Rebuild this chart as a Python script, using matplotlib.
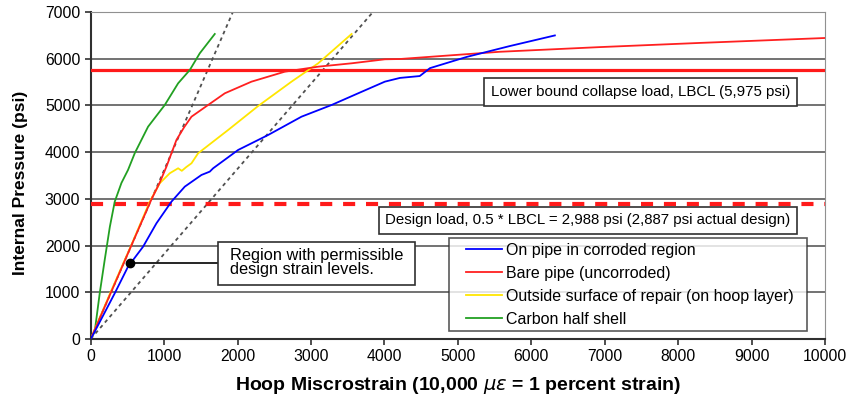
import matplotlib
matplotlib.use("Agg")
import matplotlib.pyplot as plt
from matplotlib.lines import Line2D
from matplotlib.patches import Rectangle
from matplotlib.legend_handler import HandlerLine2D

plt.rcParams['font.family'] = ['Liberation Sans', 'DejaVu Sans']

# --- data ---
blue_x = [0, 54, 327, 508, 713, 895, 1099, 1281, 1508, 1621, 1667, 2007, 2416, 2870,
          3279, 3642, 4005, 4210, 4480, 4620, 5120, 5700, 6320]
blue_y = [0, 156, 978, 1548, 1976, 2477, 2940, 3262, 3512, 3583, 3655, 4047, 4368, 4760,
          5010, 5261, 5510, 5590, 5630, 5800, 6040, 6270, 6500]

red_x = [0, 277, 553, 830, 940, 1031, 1100, 1167, 1270, 1372, 1598, 1826, 2189, 2643,
         3097, 3552, 4005, 4210, 5570, 6930, 8300, 10000]
red_y = [0, 1000, 2000, 3000, 3350, 3690, 3980, 4261, 4530, 4760, 5010, 5261, 5510, 5724,
         5831, 5903, 5989, 5995, 6150, 6250, 6340, 6445]

yellow_x = [0, 270, 550, 804, 940, 1076, 1190, 1240, 1300, 1372, 1462, 1871, 2280, 2734,
            3097, 3552]
yellow_y = [0, 1000, 2000, 2940, 3334, 3548, 3655, 3600, 3680, 3762, 3976, 4475, 4989, 5510,
            5903, 6531]

green_x = [0, 54, 123, 190, 260, 327, 418, 508, 600, 781, 1008, 1190, 1349, 1485, 1689]
green_y = [0, 156, 985, 1690, 2400, 2940, 3340, 3620, 3980, 4546, 5010, 5475, 5760, 6118, 6531]

labels = ["On pipe in corroded region", "Bare pipe (uncorroded)",
          "Outside surface of repair (on hoop layer)", "Carbon half shell"]
colors = ["#0000ff", "#ff2020", "#ffe600", "#22a022"]

lbcl_line = 5750
design_line = 2900
slope_lines = [(1935, 7000), (3842, 7000)]
dot = (531, 1621)

fig = plt.figure(figsize=(8.48, 4.03), dpi=100)
ax = fig.add_axes([0.107, 0.159, 0.866, 0.811])

for yv in range(1000, 7001, 1000):
    ax.axhline(yv, color="#5a5a5a", lw=1.2, zorder=1)

for (sx, sy) in slope_lines:
    ax.plot([0, sx], [0, sy], ls=(0, (2, 2)), color="#505050", lw=1.3, zorder=2)

ax.axhline(lbcl_line, color="#ff1a1a", lw=2.3, zorder=3)
ax.axhline(design_line, color="#ff1a1a", lw=3, ls=(0, (2.9, 2.6)), zorder=3)

for xs, ys, c in [(green_x, green_y, colors[3]),
                  (yellow_x, yellow_y, colors[2]),
                  (red_x, red_y, colors[1]),
                  (blue_x, blue_y, colors[0])]:
    ax.plot(xs, ys, color=c, lw=1.3, zorder=4)

handles = [Line2D([], [], color=c, lw=1.3) for c in colors]
leg_labels = labels[:2] + [labels[2] + "  "] + labels[3:]
leg = ax.legend(handles, leg_labels, loc="upper left", bbox_to_anchor=(0.488, 0.309),
                frameon=True, fancybox=False, fontsize=11.5, handlelength=3.0,
                handler_map={Line2D: HandlerLine2D(xpad=0.75)},
                borderpad=0.3, labelspacing=0.5, handletextpad=0.25,
                borderaxespad=0)
leg.get_frame().set_edgecolor("#303030")
leg.get_frame().set_linewidth(1.2)
leg.set_zorder(6)

box = dict(boxstyle="square,pad=0.45", fc="white", ec="#303030", lw=1.2)
ax.text(7490, 5290, "Lower bound collapse load, LBCL (5,975 psi)", ha="center",
        va="center", fontsize=10.8, bbox=box, zorder=6)
ax.text(6770, 2537, "Design load, 0.5 * LBCL = 2,988 psi (2,887 psi actual design)",
        ha="center", va="center", fontsize=10.8, bbox=box, zorder=6)

ax.add_patch(Rectangle((1730, 1156), 2684, 921, fc="white", ec="#303030", lw=1.2, zorder=6))
ax.text(1894, 1640, "Region with permissible\ndesign strain levels.", ha="left",
        va="center", fontsize=11.8, linespacing=0.95, zorder=7)
ax.plot([dot[0], 1730], [dot[1], dot[1]], color="black", lw=1.2, zorder=5)
ax.plot(*dot, marker="o", color="black", ms=6, zorder=5)

ax.set_xlim(0, 10000)
ax.set_ylim(0, 7000)
ax.set_xticks(range(0, 10001, 1000))
ax.set_yticks(range(0, 7001, 1000))
ax.tick_params(labelsize=11.3, length=4, width=1.2, color="#303030")
for s in ["top", "right"]:
    ax.spines[s].set_color("#909090")
for s in ["left", "bottom"]:
    ax.spines[s].set_color("#303030")
    ax.spines[s].set_linewidth(1.5)

ax.set_xlabel(r"Hoop Miscrostrain (10,000 $\mu\varepsilon$ = 1 percent strain)",
              fontsize=14, fontweight="bold", labelpad=8)
ax.set_ylabel("Internal Pressure (psi)", fontsize=12.5, fontweight="bold")
ax.yaxis.set_label_coords(-0.086, 0.477)

fig.savefig("out.png", dpi=100)
